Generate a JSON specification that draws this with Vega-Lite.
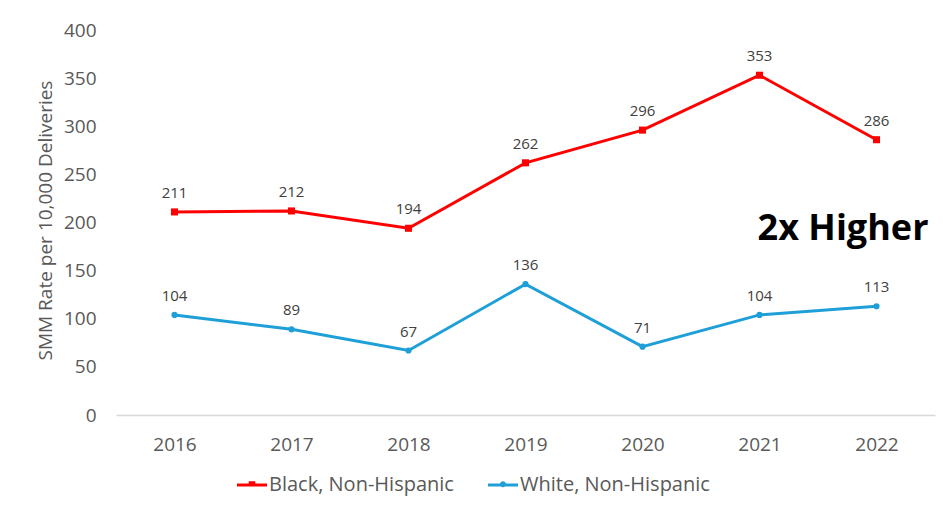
{
  "$schema": "https://vega.github.io/schema/vega-lite/v6.json",
  "autosize": "none",
  "width": 819,
  "height": 385,
  "padding": {"left": 116, "top": 30, "right": 8, "bottom": 97},
  "background": "white",
  "config": {
    "font": "Open Sans",
    "view": {"stroke": null},
    "axis": {"grid": false, "ticks": false, "labelColor": "#595959", "labelFont": "Open Sans", "titleFont": "Open Sans"}
  },
  "datasets": {
    "series": [
      {"year": "2016", "group": "Black, Non-Hispanic", "value": 211},
      {"year": "2017", "group": "Black, Non-Hispanic", "value": 212},
      {"year": "2018", "group": "Black, Non-Hispanic", "value": 194},
      {"year": "2019", "group": "Black, Non-Hispanic", "value": 262},
      {"year": "2020", "group": "Black, Non-Hispanic", "value": 296},
      {"year": "2021", "group": "Black, Non-Hispanic", "value": 353},
      {"year": "2022", "group": "Black, Non-Hispanic", "value": 286},
      {"year": "2016", "group": "White, Non-Hispanic", "value": 104},
      {"year": "2017", "group": "White, Non-Hispanic", "value": 89},
      {"year": "2018", "group": "White, Non-Hispanic", "value": 67},
      {"year": "2019", "group": "White, Non-Hispanic", "value": 136},
      {"year": "2020", "group": "White, Non-Hispanic", "value": 71},
      {"year": "2021", "group": "White, Non-Hispanic", "value": 104},
      {"year": "2022", "group": "White, Non-Hispanic", "value": 113}
    ],
    "note": [
      {"year": "2022", "value": 195, "label": "2x Higher"}
    ]
  },
  "layer": [
    {
      "data": {"name": "series"},
      "mark": {"type": "line", "strokeWidth": 3},
      "encoding": {
        "x": {
          "field": "year", "type": "ordinal",
          "scale": {"type": "point", "padding": 0.5},
          "axis": {"title": null, "labelAngle": 0, "labelFontSize": 19, "labelPadding": 20, "domainColor": "#D9D9D9", "domainWidth": 1.3}
        },
        "y": {
          "field": "value", "type": "quantitative",
          "scale": {"domain": [0, 400], "nice": false},
          "axis": {
            "values": [0, 50, 100, 150, 200, 250, 300, 350, 400],
            "domain": false, "labelFontSize": 19, "labelPadding": 20,
            "title": "SMM Rate per 10,000 Deliveries", "titleFontSize": 19, "titleFontWeight": "normal", "titleColor": "#595959",
            "titleX": -71, "titleY": 190, "titleAnchor": "middle", "titleBaseline": "middle", "titleAngle": -90
          }
        },
        "color": {
          "field": "group", "type": "nominal",
          "scale": {"domain": ["Black, Non-Hispanic", "White, Non-Hispanic"], "range": ["#FF0000", "#1E9FD8"]},
          "legend": {
            "title": null, "orient": "none", "direction": "horizontal",
            "legendX": 121, "legendY": 440, "padding": 0,
            "labelFontSize": 20, "labelColor": "#595959", "labelFont": "Open Sans", "labelLimit": 0,
            "symbolSize": 900, "symbolOffset": 0, "labelOffset": 2, "columnPadding": 34,
            "encode": {
              "symbols": {
                "update": {
                  "shape": {"signal": "datum.value === 'Black, Non-Hispanic' ? 'M-1,-0.1H1V0.1H-1Z M-0.22,-0.25H0.22V0.1H-0.22Z' : 'M-1,-0.1H1V0.1H-1Z M-0.2,-0.05A0.2,0.2 0 1,1 0.2,-0.05A0.2,0.2 0 1,1 -0.2,-0.05Z'"},
                  "fill": {"scale": "color", "field": "value"},
                  "fillOpacity": {"value": 1},
                  "strokeWidth": {"value": 0}
                }
              }
            }
          }
        }
      }
    },
    {
      "data": {"name": "series"},
      "transform": [{"filter": "datum.group === 'Black, Non-Hispanic'"}],
      "mark": {"type": "square", "filled": true, "opacity": 1, "size": 50},
      "encoding": {
        "x": {"field": "year", "type": "ordinal"},
        "y": {"field": "value", "type": "quantitative"},
        "color": {"field": "group", "type": "nominal"}
      }
    },
    {
      "data": {"name": "series"},
      "transform": [{"filter": "datum.group === 'White, Non-Hispanic'"}],
      "mark": {"type": "circle", "filled": true, "opacity": 1, "size": 38},
      "encoding": {
        "x": {"field": "year", "type": "ordinal"},
        "y": {"field": "value", "type": "quantitative"},
        "color": {"field": "group", "type": "nominal"}
      }
    },
    {
      "data": {"name": "series"},
      "mark": {"type": "text", "dy": -19, "fontSize": 15, "color": "#404040", "font": "Open Sans"},
      "encoding": {
        "x": {"field": "year", "type": "ordinal"},
        "y": {"field": "value", "type": "quantitative"},
        "text": {"field": "value", "type": "quantitative"}
      }
    },
    {
      "data": {"name": "note"},
      "mark": {"type": "text", "align": "right", "baseline": "middle", "dx": 52, "dy": 2, "fontSize": 36, "fontWeight": "bold", "color": "#000000", "font": "Open Sans"},
      "encoding": {
        "x": {"field": "year", "type": "ordinal"},
        "y": {"field": "value", "type": "quantitative"},
        "text": {"field": "label", "type": "nominal"}
      }
    }
  ]
}
